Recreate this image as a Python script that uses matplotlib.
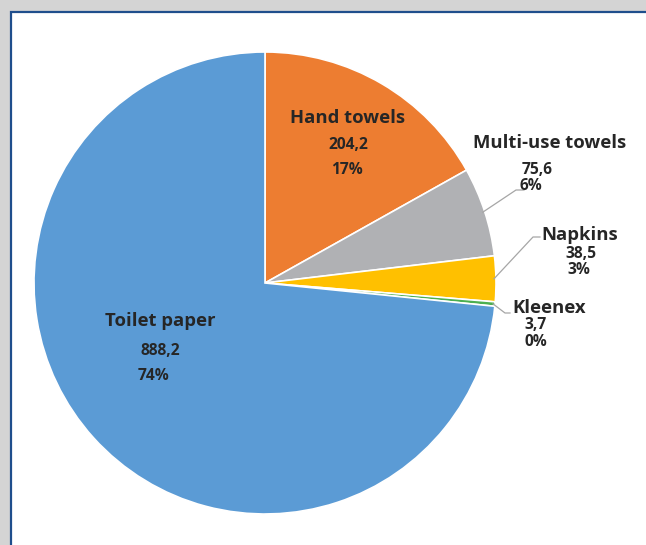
import numpy as np
import matplotlib.pyplot as plt
from matplotlib.patches import Rectangle

# data (clockwise from 12 o'clock)
labels = ['Hand towels', 'Multi-use towels', 'Napkins', 'Kleenex', 'Toilet paper']
values = [204.2, 75.6, 38.5, 3.7, 888.2]
value_labels = ['204,2', '75,6', '38,5', '3,7', '888,2']
pct_labels = ['17%', '6%', '3%', '0%', '74%']
colors = ['#ED7D31', '#B0B1B4', '#FFC000', '#4CAF50', '#5B9BD5']

W, H = 646, 545
fig = plt.figure(figsize=(W / 100, H / 100), dpi=100)
fig.patch.set_facecolor('#d4d4d4')
ax = fig.add_axes([0, 0, 1, 1])

# white panel with blue frame
ax.add_patch(Rectangle((11, -5), W, H - 12 + 5, facecolor='white',
                       edgecolor='#1f4e8c', linewidth=1.6, zorder=0))

cx, cy, r = 265, H - 283, 231
wedges, _ = ax.pie(values, colors=colors, startangle=90, counterclock=False,
                   center=(cx, cy), radius=r, frame=True,
                   wedgeprops=dict(edgecolor='white', linewidth=1.2))
ax.set_xlim(0, W)
ax.set_ylim(0, H)
ax.set_aspect('auto')
ax.axis('off')

txt = dict(family=['Open Sans', 'DejaVu Sans'], weight='bold', color='#262626',
           ha='center', va='center')
fs_title, fs_val = 13.3, 11.2

# inside labels
ax.text(348, H - 118, labels[0], fontsize=fs_title, **txt)
ax.text(348, H - 145, value_labels[0], fontsize=fs_val, **txt)
ax.text(347, H - 170, pct_labels[0], fontsize=fs_val, **txt)
ax.text(160, H - 321, labels[4], fontsize=fs_title, **txt)
ax.text(160, H - 351, value_labels[4], fontsize=fs_val, **txt)
ax.text(154, H - 376, pct_labels[4], fontsize=fs_val, **txt)

# outside labels with leader lines
outside = [
    # idx, title xy, value xy, pct xy, elbow xy, end x
    (1, (550, 143), (537, 170), (531, 186), (516, 190), 524),
    (2, (580, 235), (581, 254), (579, 270), (533, 237), 540),
    (3, (549, 308), (536, 325), (536, 342), (505, 313), 510),
]
angles = []
start = 90.0
total = sum(values)
for v in values:
    span = 360.0 * v / total
    angles.append(start - span / 2)
    start -= span

for idx, t, v, p, elbow, ex in outside:
    ax.text(t[0], H - t[1], labels[idx], fontsize=fs_title, **txt)
    ax.text(v[0], H - v[1], value_labels[idx], fontsize=fs_val, **txt)
    ax.text(p[0], H - p[1], pct_labels[idx], fontsize=fs_val, **txt)
    a = np.deg2rad(angles[idx])
    x0, y0 = cx + (r - 2) * np.cos(a), cy + (r - 2) * np.sin(a)
    ax.plot([x0, elbow[0], ex], [y0, H - elbow[1], H - elbow[1]],
            color='#a6a6a6', linewidth=0.9)

fig.savefig('out.png', dpi=100, facecolor=fig.get_facecolor())
